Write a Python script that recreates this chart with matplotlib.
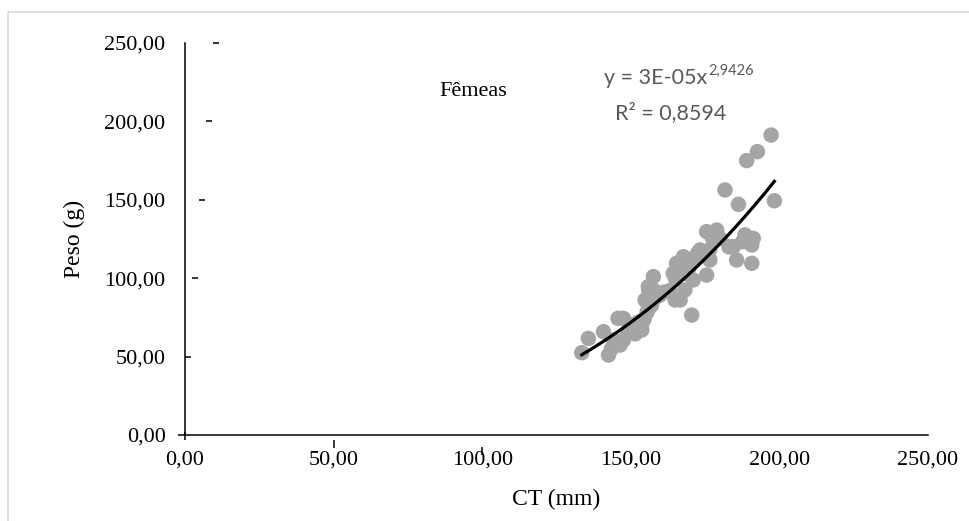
import numpy as np
import matplotlib
matplotlib.use("Agg")
import matplotlib.pyplot as plt
from matplotlib.patches import Rectangle
from matplotlib.transforms import offset_copy

# comprimento total (mm) e peso (g) das femeas
ct = [133.5, 135.7, 140.8, 142.5, 143.5, 144.1, 145.7, 146.4, 147.5, 147.5,
      149.0, 150.3, 151.5, 151.9, 152.5, 153.7, 153.7, 154.5, 154.8, 155.5,
      155.9, 156.0, 156.5, 157.0, 157.6, 157.6, 158.5, 159.8, 161.0, 163.0,
      164.3, 164.9, 165.0, 165.4, 166.0, 166.6, 167.7, 168.2, 168.5, 169.5,
      170.5, 171.0, 171.5, 172.5, 173.3, 175.5, 175.5, 176.5, 176.6, 177.5,
      178.9, 180.0, 181.7, 183.0, 184.5, 185.6, 186.2, 187.6, 188.4, 189.0,
      190.7, 190.7, 191.2, 192.6, 197.2, 198.3]
peso = [52.5, 61.6, 65.9, 51.0, 55.0, 60.6, 74.4, 57.4, 60.5, 74.4,
        66.0, 70.2, 64.5, 67.0, 72.0, 67.0, 71.2, 74.0, 86.1, 78.5,
        94.6, 92.5, 81.8, 83.0, 101.0, 92.5, 88.0, 89.3, 91.0, 92.0,
        103.1, 86.1, 100.0, 109.5, 109.5, 86.1, 113.7, 92.5, 103.0, 106.0,
        76.5, 98.9, 112.0, 115.9, 118.0, 102.0, 129.7, 118.0, 111.6, 125.4,
        130.7, 125.4, 156.3, 120.0, 120.1, 111.6, 147.1, 123.3, 127.6, 175.0,
        121.2, 109.5, 125.4, 180.7, 191.3, 149.4]

ticks = [0, 50, 100, 150, 200, 250]
tick_labels = ["0,00", "50,00", "100,00", "150,00", "200,00", "250,00"]

W, H = 970, 521
fig = plt.figure(figsize=(W / 100, H / 100), dpi=100)
def fx(x): return x / W
def fy(y): return 1 - y / H

ax = fig.add_axes([fx(185), fy(435), fx(928) - fx(185), fy(43) - fy(435)])

serif = ["Liberation Serif", "DejaVu Serif"]
sans = ["Lato", "DejaVu Sans"]

ax.scatter(ct, peso, s=124, color="#a5a5a5", edgecolors="none", zorder=2)

# linha de tendencia potencia (ajuste em log-log, como no Excel)
b, ln_a = np.polyfit(np.log(ct), np.log(peso), 1)
xs = np.linspace(min(ct), max(ct), 200)
ax.plot(xs, np.exp(ln_a) * xs ** b, color="black", lw=2.3, zorder=3)

ax.set_xlim(0, 250)
ax.set_ylim(0, 250)
ax.set_xticks(ticks)
ax.set_yticks(ticks)
ax.set_xticklabels(tick_labels, fontsize=16, family=serif)
ax.set_yticklabels(tick_labels, fontsize=16, family=serif)
ax.tick_params(axis="x", length=0, pad=11)
ax.tick_params(axis="y", length=0, pad=14)
for s in ["top", "right"]:
    ax.spines[s].set_visible(False)
for s in ["left", "bottom"]:
    ax.spines[s].set_linewidth(1.1)

# tracos das marcas deslocados, como no original
for i, v in enumerate(ticks):
    tr = offset_copy(ax.get_yaxis_transform(), fig, x=-3.5 + 7 * i, y=0, units="dots")
    ax.plot([0], [v], marker="_", ms=5, mew=1.1, color="black", transform=tr, clip_on=False)
for i, v in enumerate(ticks[:4]):
    tr = offset_copy(ax.get_xaxis_transform(), fig, x=0, y=-(1 + 7.5 * i), units="dots")
    ax.plot([v], [0], marker="|", ms=5.2, mew=1.1, color="black", transform=tr, clip_on=False)

ax.set_xlabel("CT (mm)", fontsize=17, family=serif, labelpad=14)
ax.set_ylabel("Peso (g)", fontsize=17, family=serif, labelpad=14)

fig.text(fx(473), fy(92), "Fêmeas", fontsize=16, family=serif, ha="center", va="center")
fig.text(fx(707), fy(78), "y = 3E-05x", fontsize=15.5, family=sans, color="#595959",
         ha="right", va="center")
fig.text(fx(708), fy(71), "2,9426", fontsize=10.5, family=sans, color="#595959",
         ha="left", va="center")
fig.text(fx(671), fy(113), "R² = 0,8594", fontsize=15.5, family=sans, color="#595959",
         ha="center", va="center")

fig.patches.append(Rectangle((fx(8), -0.1), 1.2, fy(12) + 0.1, transform=fig.transFigure,
                             fill=False, edgecolor="#d9d9d9", lw=1.2))

fig.savefig("out.png", dpi=100)
